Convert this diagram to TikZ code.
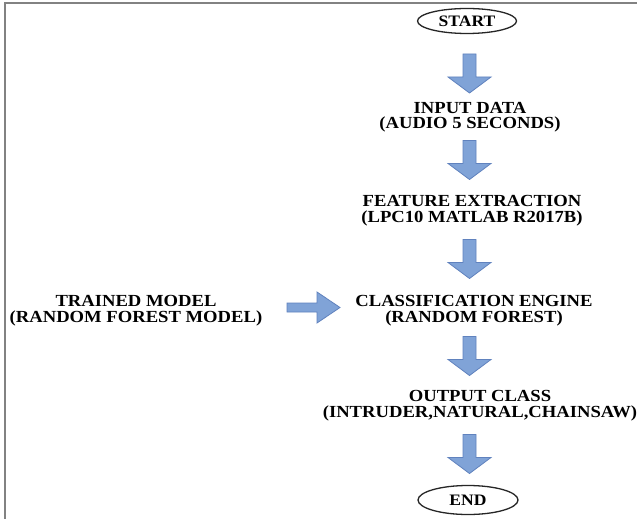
\documentclass[tikz,border=0pt]{standalone}
\usepackage{fontspec}
\setmainfont{Liberation Serif}[FakeStretch=1.1]
\usetikzlibrary{shapes.geometric}
\definecolor{arrfill}{RGB}{128,163,215}
\definecolor{arredge}{RGB}{96,130,190}
\definecolor{framec}{RGB}{130,130,130}
\begin{document}
\begin{tikzpicture}[x=1bp,y=-1bp,
  txt/.style={align=center,inner sep=0pt,font=\bfseries\fontsize{17}{15.5}\selectfont},
  term/.style={draw=black!85,line width=1.3bp,ellipse,minimum width=99bp,minimum height=25bp,inner sep=0pt,font=\bfseries\fontsize{16}{16}\selectfont},
  blk/.style={fill=arrfill,draw=arredge,line width=0.8bp,line join=miter},
  darrow/.pic={\draw[blk] (-6.5,-19.5) -- (6.5,-19.5) -- (6.5,3.5) -- (21.5,3.5) -- (0,19.5) -- (-21.5,3.5) -- (-6.5,3.5) -- cycle;},
  rarrow/.pic={\draw[blk] (-26.5,-4.5) -- (3.5,-4.5) -- (3.5,-15.5) -- (26.5,0) -- (3.5,15.5) -- (3.5,4.5) -- (-26.5,4.5) -- cycle;}
]
\useasboundingbox[fill=white] (0,0) rectangle (637,519);
\draw[framec,line width=2bp] (5,519) -- (5,3) -- (637,3);

\node[term] (start) at (467,21) {START};
\node[txt] (input) at (470,117) {INPUT DATA\\(AUDIO 5 SECONDS)};
\node[txt] (feat) at (472,210.5) {FEATURE EXTRACTION\\(LPC10 MATLAB R2017B)};
\node[txt] (class) at (474,310.5) {CLASSIFICATION ENGINE\\(RANDOM FOREST)};
\node[txt] (trained) at (136,310.5) {TRAINED MODEL\\(RANDOM FOREST MODEL)};
\node[txt] (out) at (480,405.5) {OUTPUT CLASS\\(INTRUDER,NATURAL,CHAINSAW)};
\node[term,minimum width=100bp,minimum height=29bp] (end) at (468,500) {END};

\pic at (469.5,73.5) {darrow};
\pic at (469.5,160) {darrow};
\pic at (469.5,259) {darrow};
\pic at (469.5,356) {darrow};
\pic at (469.5,454) {darrow};
\pic at (313.5,307.5) {rarrow};
\end{tikzpicture}
\end{document}
